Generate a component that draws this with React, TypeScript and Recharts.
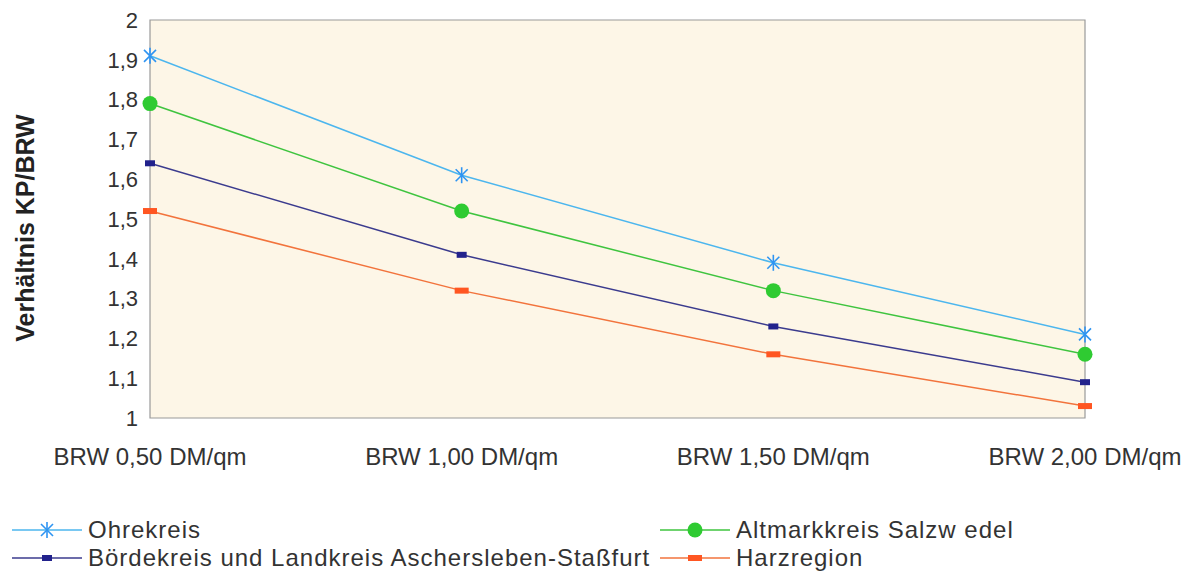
import { LineChart, Line, XAxis, YAxis, Legend, ReferenceArea } from 'recharts'

const categories = ['BRW 0,50 DM/qm', 'BRW 1,00 DM/qm', 'BRW 1,50 DM/qm', 'BRW 2,00 DM/qm']
const ohrekreis = [1.91, 1.61, 1.39, 1.21]
const altmark = [1.79, 1.52, 1.32, 1.16]
const boerde = [1.64, 1.41, 1.23, 1.09]
const harz = [1.52, 1.32, 1.16, 1.03]
const yTicks = [1, 1.1, 1.2, 1.3, 1.4, 1.5, 1.6, 1.7, 1.8, 1.9, 2]

const data = categories.map((name, i) => ({
  name,
  ohre: ohrekreis[i],
  altmark: altmark[i],
  boerde: boerde[i],
  harz: harz[i],
}))

const FONT = '"Liberation Sans", Arial, sans-serif'

type Shape = 'star' | 'circle' | 'smallRect' | 'wideRect'

const series: { key: string; name: string; line: string; mark: string; shape: Shape }[] = [
  { key: 'ohre', name: 'Ohrekreis', line: '#4cb6ee', mark: '#2e94f2', shape: 'star' },
  { key: 'altmark', name: 'Altmarkkreis Salzw edel', line: '#3fc43f', mark: '#2fcb32', shape: 'circle' },
  { key: 'boerde', name: 'Bördekreis und Landkreis Aschersleben-Staßfurt', line: '#3b3b8e', mark: '#22228c', shape: 'smallRect' },
  { key: 'harz', name: 'Harzregion', line: '#f2733c', mark: '#ff5622', shape: 'wideRect' },
]

function Marker({ cx, cy, shape, color }: { cx: number; cy: number; shape: Shape; color: string }) {
  if (cx == null || cy == null) return null
  if (shape === 'star') {
    const r = 8
    const d = r * 0.75
    return (
      <g stroke={color} strokeWidth={1.6}>
        <line x1={cx} y1={cy - r} x2={cx} y2={cy + r} />
        <line x1={cx - d} y1={cy - d} x2={cx + d} y2={cy + d} />
        <line x1={cx - d} y1={cy + d} x2={cx + d} y2={cy - d} />
      </g>
    )
  }
  if (shape === 'circle') return <circle cx={cx} cy={cy} r={7.5} fill={color} />
  if (shape === 'smallRect') return <rect x={cx - 5} y={cy - 3} width={10} height={6} fill={color} />
  return <rect x={cx - 7} y={cy - 3} width={14} height={6} fill={color} />
}

function LegendBox() {
  const item = (s: typeof series[number]) => (
    <div key={s.key} style={{ display: 'flex', alignItems: 'center', height: 28 }}>
      <svg width={70} height={20} style={{ marginRight: 6 }}>
        <line x1={0} y1={10} x2={70} y2={10} stroke={s.line} strokeWidth={1.5} />
        <Marker cx={35} cy={10} shape={s.shape} color={s.mark} />
      </svg>
      <span
        style={{
          fontFamily: FONT,
          fontSize: 24,
          lineHeight: '26px',
          letterSpacing: 1,
          color: '#333',
          whiteSpace: 'nowrap',
        }}
      >
        {s.name}
      </span>
    </div>
  )
  return (
    <div style={{ height: 86, position: 'relative' }}>
      <div style={{ position: 'absolute', left: 12, top: 38 }}>
        {item(series[0])}
        {item(series[2])}
      </div>
      <div style={{ position: 'absolute', left: 660, top: 38 }}>
        {item(series[1])}
        {item(series[3])}
      </div>
    </div>
  )
}

function YLabel({ viewBox }: any) {
  const x = 34
  const y = viewBox.y + viewBox.height / 2 + 9
  return (
    <text
      x={x}
      y={y}
      transform={`rotate(-90, ${x}, ${y})`}
      textAnchor="middle"
      fontFamily={FONT}
      fontSize={25}
      fontWeight="bold"
      fill="#222"
    >
      Verhältnis KP/BRW
    </text>
  )
}

export default function App() {
  return (
    <div style={{ position: 'absolute', left: 0, top: 0, background: '#fff' }}>
      <LineChart
        width={1195}
        height={574}
        data={data}
        margin={{ top: 20, right: 110, left: 0, bottom: 10 }}
      >
        <ReferenceArea
          x1={categories[0]}
          x2={categories[categories.length - 1]}
          y1={1}
          y2={2}
          fill="#fdf6e7"
          fillOpacity={1}
          stroke="#9a9a9a"
          strokeWidth={1.2}
        />
        <XAxis
          dataKey="name"
          height={60}
          axisLine={false}
          tickLine={false}
          tickMargin={24}
          tick={{ fill: '#333', fontSize: 24, fontFamily: FONT }}
          interval={0}
        />
        <YAxis
          domain={[1, 2]}
          ticks={yTicks}
          width={150}
          axisLine={false}
          tickLine={false}
          tickMargin={6}
          tickFormatter={(v: number) => String(v).replace('.', ',')}
          tick={{ fill: '#333', fontSize: 22, fontFamily: FONT }}
          label={<YLabel />}
        />
        <Legend verticalAlign="bottom" wrapperStyle={{ left: 0, width: 1195 }} content={() => <LegendBox />} />
        {series.map(s => (
          <Line
            key={s.key}
            dataKey={s.key}
            name={s.name}
            stroke={s.line}
            strokeWidth={1.5}
            isAnimationActive={false}
            dot={(p: any) => <Marker key={`${s.key}-${p.index}`} cx={p.cx} cy={p.cy} shape={s.shape} color={s.mark} />}
            activeDot={false}
          />
        ))}
      </LineChart>
    </div>
  )
}
